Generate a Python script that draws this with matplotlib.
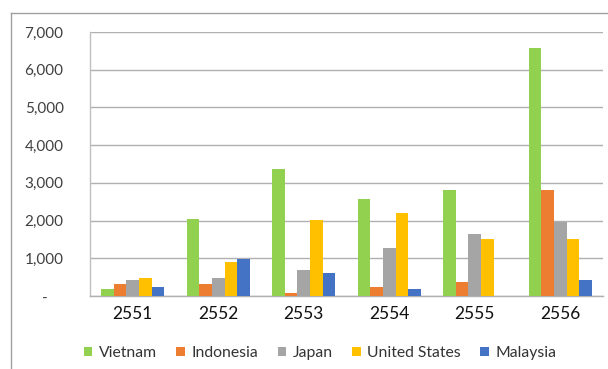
import matplotlib.pyplot as plt
import numpy as np
from matplotlib.lines import Line2D

plt.rcParams['font.family'] = ['Lato', 'DejaVu Sans']

years = ['2551', '2552', '2553', '2554', '2555', '2556']
countries = ['Vietnam', 'Indonesia', 'Japan', 'United States', 'Malaysia']
vietnam = [178, 2042, 3360, 2565, 2804, 6578]
indonesia = [318, 318, 70, 239, 371, 2804]
japan = [432, 477, 690, 1273, 1645, 1971]
united_states = [486, 902, 2008, 2201, 1512, 1512]
malaysia = [239, 973, 618, 178, 0, 432]
colors = ['#92D050', '#ED7D31', '#A5A5A5', '#FFC000', '#4472C4']

series = [vietnam, indonesia, japan, united_states, malaysia]

fig = plt.figure(figsize=(6.08, 3.69), dpi=100)
ax = fig.add_axes([90 / 608, 1 - 296 / 369, 513 / 608, 264 / 369])

x = np.arange(len(years))
w = 1 / (5 + 1.75)
for i, (vals, name, c) in enumerate(zip(series, countries, colors)):
    ax.bar(x + (i - 2) * w, vals, width=w, color=c, label=name, zorder=3)

ax.set_xlim(-0.5, len(years) - 0.5)
ax.set_ylim(0, 7000)
ticks = np.arange(0, 7001, 1000)
ax.set_yticks(ticks)
ax.set_yticklabels(['-    '] + [f'{t:,}' for t in ticks[1:]], fontsize=11, color='#404040')
ax.set_xticks(x)
ax.set_xticklabels(years, fontsize=12.5, color='#111111')
ax.tick_params(axis='y', length=0, pad=19)
ax.tick_params(axis='x', length=0, pad=7)

ax.grid(axis='y', color='#b0b0b0', linewidth=1, zorder=0)
for s in ['top', 'right']:
    ax.spines[s].set_visible(False)
ax.spines['left'].set_color('#c0c0c0')
ax.spines['bottom'].set_color('#b0b0b0')
ax.spines['left'].set_linewidth(1)
ax.spines['bottom'].set_linewidth(1)

# outer chart frame (top and left edges)
fig.add_artist(Line2D([11 / 608, 11 / 608], [0, 1 - 13 / 369], color='#a0a0a0', lw=1))
fig.add_artist(Line2D([11 / 608, 1], [1 - 13 / 369, 1 - 13 / 369], color='#a0a0a0', lw=1))

fig.legend(loc='center', bbox_to_anchor=(320 / 608, 1 - 353 / 369), ncol=5, frameon=False,
           fontsize=11.3, handlelength=0.55, handleheight=0.55, handletextpad=0.4,
           columnspacing=1.25, labelcolor='#333333')

fig.savefig('out.png', dpi=100)
